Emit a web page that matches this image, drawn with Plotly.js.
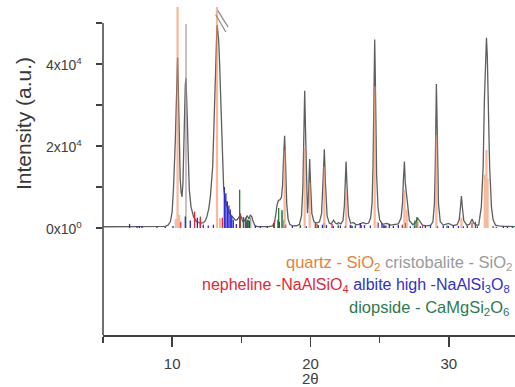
<!DOCTYPE html>
<html>
<head>
<meta charset="utf-8">
<script src="https://cdn.plot.ly/plotly-3.0.1.min.js"></script>
<style>
html,body{margin:0;padding:0;overflow:hidden;background:#fff;}
#chart{width:560px;height:387px;}
</style>
</head>
<body>
<div id="chart"></div>
<script>
// ---- measured pattern (2theta, intensity) ----
var patternX = [5.0,6.5,8.0,9.0,9.5,9.7,9.87,10.0,10.1,10.23,10.3,10.35,10.39,10.44,10.5,10.58,10.64,10.71,10.78,10.83,10.9,10.95,11.0,11.05,11.1,11.15,11.24,11.36,11.55,11.75,11.91,12.1,12.27,12.4,12.52,12.65,12.76,12.93,13.05,13.15,13.21,13.24,13.3,13.36,13.42,13.48,13.6,13.72,13.82,13.92,14.05,14.2,14.4,14.57,14.7,14.8,14.93,15.02,15.1,15.2,15.29,15.41,15.5,15.56,15.65,15.75,15.82,15.96,16.13,16.5,17.0,17.25,17.41,17.5,17.58,17.68,17.8,17.9,17.98,18.05,18.13,18.2,18.28,18.38,18.5,18.7,19.0,19.2,19.35,19.45,19.52,19.58,19.64,19.72,19.78,19.84,19.89,19.94,20.0,20.1,20.25,20.45,20.65,20.8,20.9,21.0,21.08,21.2,21.35,21.5,21.67,21.8,21.92,22.04,22.2,22.35,22.45,22.52,22.57,22.63,22.75,22.9,23.12,23.3,23.5,23.7,23.85,24.0,24.2,24.35,24.45,24.52,24.57,24.6,24.64,24.68,24.72,24.78,24.88,25.0,25.2,25.53,25.8,26.1,26.35,26.55,26.65,26.72,26.79,26.85,26.93,27.0,27.15,27.4,27.6,27.75,27.9,28.1,28.4,28.7,28.85,28.96,29.02,29.06,29.1,29.14,29.18,29.25,29.38,29.6,29.97,30.3,30.6,30.75,30.84,30.91,30.98,31.08,31.3,31.5,31.68,31.8,32.0,32.16,32.35,32.48,32.57,32.65,32.72,32.78,32.84,32.95,33.08,33.2,33.37,33.6,34.0,34.5,35.0];
var patternY = [300,310,300,320,400,700,1500,4000,10000,21500,30000,36000,41600,35000,22500,12000,9000,7600,11000,20000,30500,35000,36500,33000,26000,19000,9300,5200,2700,1600,1300,1200,1300,1800,2900,4800,7600,15000,27100,39300,46500,49500,48000,45800,41000,35300,21500,10000,7200,5600,4200,3300,2500,1950,2000,2400,3200,2500,1600,1700,2000,3000,2400,2200,3200,2800,1950,700,350,300,330,500,1500,3500,5600,6700,6900,7500,10500,17000,22500,15500,6000,2200,900,500,550,900,3000,10000,25000,33500,24000,7000,3600,6000,12000,16800,11000,3500,1500,1200,1500,3500,11000,19200,11000,3000,1200,1000,1900,1200,1000,1300,1000,1800,5500,12500,16200,11000,3000,1200,1300,800,900,1200,1300,1000,1200,2500,6000,15000,28000,38000,46000,38000,26000,13000,5000,2000,900,1100,700,800,1000,2500,6000,12000,16200,11000,8500,5000,1800,800,1400,2400,1600,700,500,700,1500,6000,15000,28000,35100,28000,15000,6000,1500,700,1100,600,800,2000,5000,7800,5000,1800,700,900,2200,1200,700,700,5200,15000,31200,42000,46400,42000,31200,15000,5200,2000,700,500,400,350,300];

// ---- reference sticks (2theta, intensity) ----
var quartzPos = [10.39,13.24,10.26,10.5,13.47,18.13,19.58,19.94,21.0,22.57,24.64,24.86,26.79,26.95,27.75,29.1,30.91,31.68,32.6,32.72,32.8];
var quartzInt = [60000,60000,2200,3200,2400,19000,19500,11000,15000,9300,34500,1500,9300,4500,1500,22700,2500,1500,13000,19000,12000];

var cristobalitePos = [11.0,14.27,15.68,17.95,18.05,20.98,22.02,25.5];
var cristobaliteInt = [49750,2000,2500,4000,2000,1200,900,600];

var nephelinePos = [10.62,11.62,12.04,13.63,14.93,15.36,17.39,18.2,20.35,20.47,21.56,22.95,23.68,25.41,26.64,28.1,31.68,33.2];
var nephelineInt = [1500,4000,2800,2500,3600,1500,1800,800,1200,1000,1000,600,700,600,800,500,1200,500];

var albitePos = [6.92,7.46,7.63,7.82,8.9,9.5,10.06,10.95,11.31,11.82,12.04,12.25,12.61,12.98,13.77,13.88,13.99,14.1,14.2,14.31,14.42,14.64,15.29,15.43,15.58,16.01,16.37,16.88,17.65,17.75,18.18,18.69,19.27,19.7,20.57,20.86,21.15,21.65,22.16,22.52,22.88,23.24,23.6,23.9,24.33,24.9,25.17,25.34,25.7,25.99,26.35,27.22,27.51,27.94,28.3,28.67,29.18,29.6,29.97,30.33,30.69,31.05,31.34,32.06,33.43,33.94,34.23];
var albiteInt = [1000,500,500,500,300,300,500,2800,1800,2500,2200,800,600,800,10000,8500,6500,5500,4500,3000,2000,1000,2500,2000,1800,500,500,400,2000,1500,600,500,600,400,700,800,700,500,600,500,800,600,1200,700,600,1200,1200,600,900,500,700,400,500,400,500,600,400,600,500,700,500,400,500,400,300,400,300];

var diopsidePos = [14.88,15.15,15.33,15.5,17.34,17.7,17.94,19.27,20.57,22.0,23.03,25.27,26.86,27.55,27.69,29.87,31.92,34.6];
var diopsideInt = [9300,2700,2400,2000,1200,4900,4400,800,600,600,500,700,1200,1800,2700,600,1500,500];

// ---- axis ticks and labels ----
var xTickVals = [10,20,30];
var xMinorVals = [5,15,25,35];
var yTickVals = [0,10000,20000,30000,40000,50000];
var yLabelVals = [0,20000,40000];
var yLabelText = ['0x10<sup>0</sup>','2x10<sup>4</sup>','4x10<sup>4</sup>'];
var xTitle = '2θ';
var yTitle = 'Intensity (a.u.)';
var legendLines = [
  '<span style="color:#e8803c">quartz - SiO<sub>2</sub></span> <span style="color:#9a9a9a">cristobalite - SiO<sub>2</sub></span>',
  '<span style="color:#dc2a36">nepheline -NaAlSiO<sub>4</sub></span> <span style="color:#3232c4">albite high -NaAlSi<sub>3</sub>O<sub>8</sub></span>',
  '<span style="color:#2f7a4f">diopside - CaMgSi<sub>2</sub>O<sub>6</sub></span>'
];

function sticks(pos, ints) {
  var xs = [], ys = [];
  for (var i = 0; i < pos.length; i++) {
    xs.push(pos[i], pos[i], null);
    ys.push(0, ints[i], null);
  }
  return {x: xs, y: ys};
}

var FONT = 'Liberation Sans, Arial, sans-serif';
var yMin = -26100, yMax = 53900;

var q = sticks(quartzPos, quartzInt);
var c = sticks(cristobalitePos, cristobaliteInt);
var n = sticks(nephelinePos, nephelineInt);
var a = sticks(albitePos, albiteInt);
var d = sticks(diopsidePos, diopsideInt);

var traces = [
  {x: patternX, y: patternY, type: 'scatter', mode: 'lines', line: {color: '#5e5e5e', width: 1.3}, hoverinfo: 'skip'},
  {x: c.x, y: c.y, type: 'scatter', mode: 'lines', line: {color: '#9a9a9a', width: 1.2}, hoverinfo: 'skip'},
  {x: a.x, y: a.y, type: 'scatter', mode: 'lines', line: {color: '#2a2ad0', width: 1.3}, hoverinfo: 'skip'},
  {x: n.x, y: n.y, type: 'scatter', mode: 'lines', line: {color: '#e0283a', width: 1.3}, hoverinfo: 'skip'},
  {x: d.x, y: d.y, type: 'scatter', mode: 'lines', line: {color: '#1f7a3a', width: 1.3}, hoverinfo: 'skip'},
  {x: q.x, y: q.y, type: 'scatter', mode: 'lines', line: {color: '#f08a5a', width: 2.3}, opacity: 0.58, hoverinfo: 'skip'}
];

var annotations = [
  {text: yTitle, textangle: -90, xref: 'paper', yref: 'paper', x: -0.193, y: 0.646, xanchor: 'center', yanchor: 'middle', showarrow: false, font: {size: 21, color: '#383838', family: FONT}},
  {text: xTitle, xref: 'paper', yref: 'paper', x: 0.5, y: -0.1335, xanchor: 'center', yanchor: 'middle', showarrow: false, borderpad: 0, font: {size: 15, color: '#404040', family: FONT}},
  {text: legendLines[0], xref: 'paper', yref: 'paper', x: 0.4362, y: 0.2195, xanchor: 'left', yanchor: 'middle', showarrow: false, font: {size: 16.5, family: FONT}},
  {text: legendLines[1], xref: 'paper', yref: 'paper', x: 0.233, y: 0.1524, xanchor: 'left', yanchor: 'middle', showarrow: false, font: {size: 16, family: FONT}},
  {text: legendLines[2], xref: 'paper', yref: 'paper', x: 0.588, y: 0.0823, xanchor: 'left', yanchor: 'middle', showarrow: false, font: {size: 16.5, family: FONT}}
];
for (var k = 0; k < yLabelVals.length; k++) {
  annotations.push({text: yLabelText[k], xref: 'paper', yref: 'y', x: -0.045, y: yLabelVals[k], xanchor: 'right', yanchor: 'middle', showarrow: false, font: {size: 14, color: '#404040', family: FONT}});
}

var layout = {
  width: 560, height: 387,
  margin: {l: 103, r: 42, t: 7, b: 52},
  paper_bgcolor: '#ffffff', plot_bgcolor: '#ffffff',
  showlegend: false,
  font: {family: FONT, color: '#404040', size: 15},
  xaxis: {
    range: [5, 35], showgrid: false, zeroline: false,
    showline: true, linecolor: '#404040', linewidth: 1.5,
    ticks: 'outside', ticklen: 10, tickwidth: 1.5, tickcolor: '#404040',
    tickmode: 'array', tickvals: xTickVals,
    minor: {tickmode: 'array', tickvals: xMinorVals, ticks: 'outside', ticklen: 6, tickwidth: 1.5, tickcolor: '#404040'},
    tickfont: {size: 15, color: '#404040', family: FONT},
    ticklabelstandoff: 4
  },
  yaxis: {
    range: [yMin, yMax], showgrid: false, zeroline: false, showline: false,
    ticks: 'outside', ticklen: 6, tickwidth: 1.5, tickcolor: '#404040',
    tickmode: 'array', tickvals: yTickVals, showticklabels: false
  },
  shapes: [
    {type: 'line', xref: 'paper', yref: 'y', x0: 0, x1: 0, y0: yMin, y1: 50000, line: {color: '#404040', width: 1.5}, layer: 'above'},
    {type: 'line', xref: 'x', yref: 'y', x0: 13.15, y0: 52000, x1: 13.88, y1: 47800, line: {color: '#8a8a8a', width: 1.2}},
    {type: 'line', xref: 'x', yref: 'y', x0: 13.3, y0: 53000, x1: 14.05, y1: 49000, line: {color: '#8a8a8a', width: 1.2}}
  ],
  annotations: annotations
};

Plotly.newPlot('chart', traces, layout, {staticPlot: true, displayModeBar: false});
</script>
</body>
</html>
